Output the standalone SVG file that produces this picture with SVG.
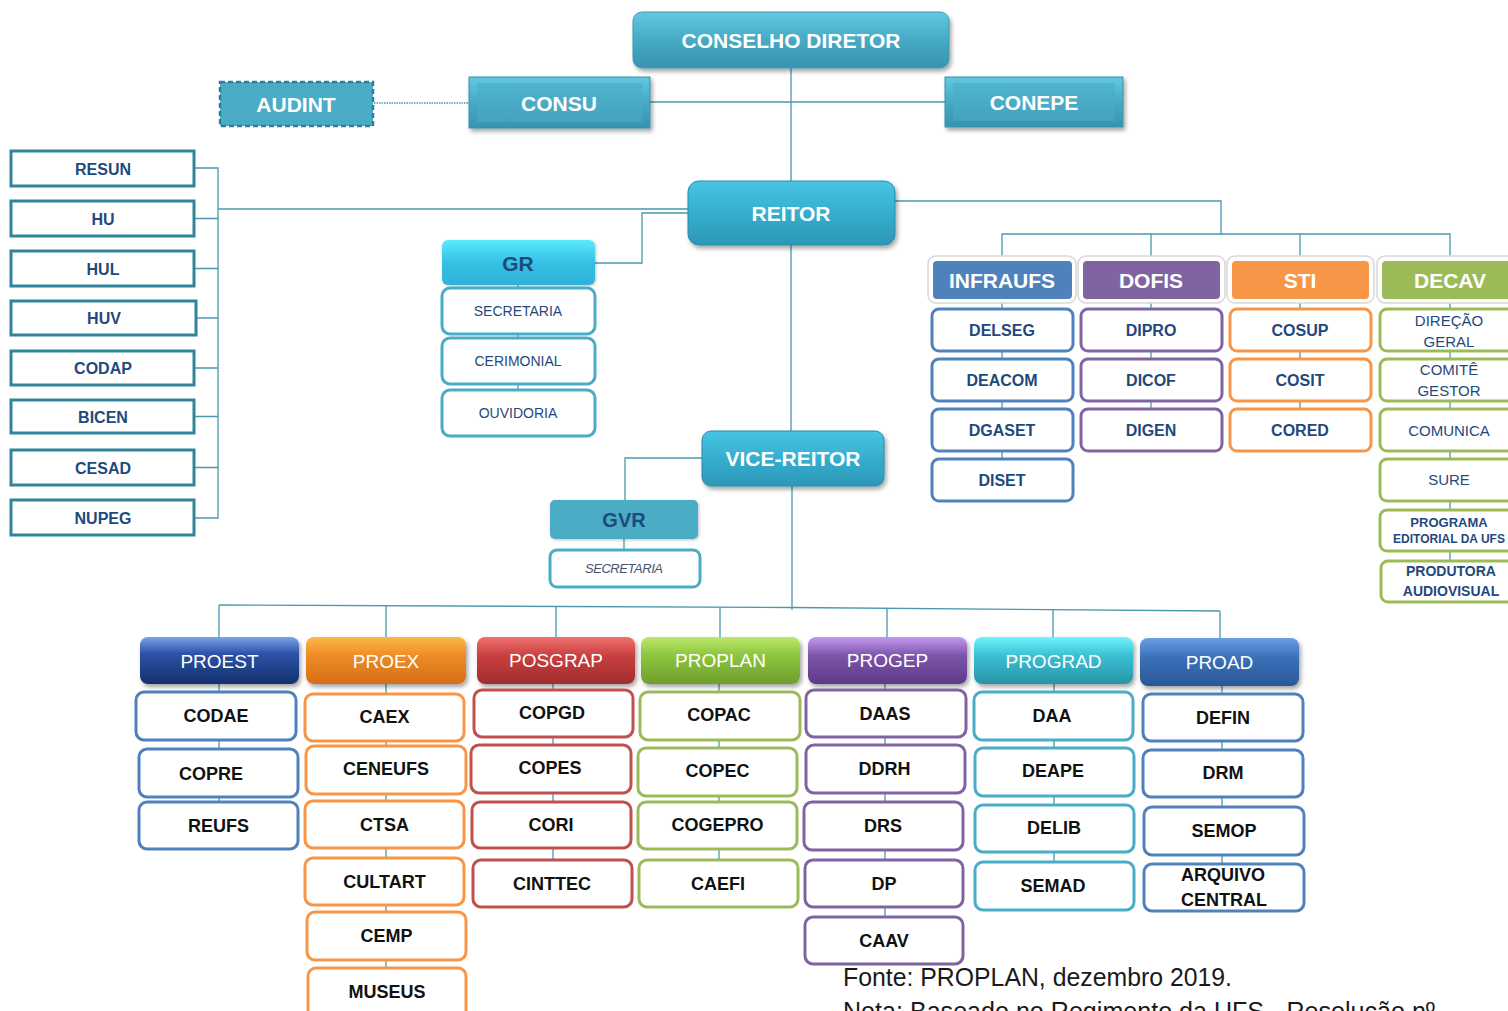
<svg xmlns="http://www.w3.org/2000/svg" width="1508" height="1011" viewBox="0 0 1508 1011">
<defs>
<style>
.t{font-family:'Liberation Sans',Arial,sans-serif;text-anchor:middle;dominant-baseline:central}
.wb{fill:#fff;font-weight:bold;font-size:21px}
.lbox{fill:#fff;stroke:#31849B;stroke-width:3}
.lt{fill:#1F497D;font-weight:bold;font-size:16px}
.c{fill:none;stroke:#4A98B0;stroke-width:1.3}
.kid{fill:#fff;stroke-width:3}
.kt{fill:#111;font-weight:bold;font-size:18px}
.ht{fill:#fff;font-size:19px}
.rt{fill:#1F497D;font-weight:bold;font-size:16px}
.dt{fill:#1F497D;font-size:15px}
.gt{fill:#1F497D;font-size:14px}
.frame{fill:#fff;stroke:#d8d8d8;stroke-width:1.5}
</style>
<linearGradient id="gTeal" x1="0" y1="0" x2="0" y2="1"><stop offset="0" stop-color="#62C8E0"/><stop offset="0.5" stop-color="#46AAC5"/><stop offset="1" stop-color="#3893AE"/></linearGradient>
<linearGradient id="gReit" x1="0" y1="0" x2="0" y2="1"><stop offset="0" stop-color="#48C4E4"/><stop offset="0.5" stop-color="#36AECF"/><stop offset="1" stop-color="#2C97B6"/></linearGradient>
<linearGradient id="gGR" x1="0" y1="0" x2="0" y2="1"><stop offset="0" stop-color="#5AEBFF"/><stop offset="0.5" stop-color="#36C0E4"/><stop offset="1" stop-color="#2EB2DA"/></linearGradient>
<linearGradient id="gNavy" x1="0" y1="0" x2="0" y2="1"><stop offset="0" stop-color="#7BA3EC"/><stop offset="0.35" stop-color="#2C54A8"/><stop offset="1" stop-color="#15306C"/></linearGradient>
<linearGradient id="gOrange" x1="0" y1="0" x2="0" y2="1"><stop offset="0" stop-color="#FDB74A"/><stop offset="0.4" stop-color="#EE8C26"/><stop offset="1" stop-color="#D66E14"/></linearGradient>
<linearGradient id="gRed" x1="0" y1="0" x2="0" y2="1"><stop offset="0" stop-color="#F07070"/><stop offset="0.4" stop-color="#C8403F"/><stop offset="1" stop-color="#A22C2C"/></linearGradient>
<linearGradient id="gGreen" x1="0" y1="0" x2="0" y2="1"><stop offset="0" stop-color="#BCE86A"/><stop offset="0.4" stop-color="#8DC43E"/><stop offset="1" stop-color="#6E9E2E"/></linearGradient>
<linearGradient id="gPurple" x1="0" y1="0" x2="0" y2="1"><stop offset="0" stop-color="#C398F0"/><stop offset="0.4" stop-color="#7C55AA"/><stop offset="1" stop-color="#5E3A86"/></linearGradient>
<linearGradient id="gCyan" x1="0" y1="0" x2="0" y2="1"><stop offset="0" stop-color="#70F4FF"/><stop offset="0.4" stop-color="#3BBFD3"/><stop offset="1" stop-color="#2894A8"/></linearGradient>
<linearGradient id="gBlue" x1="0" y1="0" x2="0" y2="1"><stop offset="0" stop-color="#6C9EE4"/><stop offset="0.4" stop-color="#3B71B9"/><stop offset="1" stop-color="#2A5896"/></linearGradient>
<filter id="sh" x="-10%" y="-20%" width="125%" height="150%"><feDropShadow dx="2" dy="3" stdDeviation="2" flood-color="#000" flood-opacity="0.35"/></filter>
<filter id="sh2" x="-10%" y="-20%" width="125%" height="150%"><feDropShadow dx="1" dy="1" stdDeviation="1.5" flood-color="#000" flood-opacity="0.25"/></filter>
</defs>
<rect width="1508" height="1011" fill="#fff"/>

<g id="connectors">
<path class="c" d="M791,68 V181 M791,245 V431 M792,486 V610"/>
<path class="c" d="M374,103 H469" stroke-dasharray="1.5 1"/>
<path class="c" d="M650,102 H945"/>
<path class="c" d="M688,209 H218 M194,168 H218 V518 H194 M194,218.5 H218 M194,268.5 H218 M196,318 H218 M194,368 H218 M194,416.5 H218 M194,467.5 H218"/>
<path class="c" d="M688,213 H642 V263 H595 M518,285 V390"/>
<path class="c" d="M702,458 H625 V500 M624,539 V550"/>
<path class="c" d="M895,201 H1221 V234 M1002,258 V234 H1450 V258 M1151,234 V258 M1300,234 V258"/>
<path class="c" d="M1002,299 V480 M1151,299 V430 M1300,299 V430 M1450,299 V580"/>
<polyline class="c" points="219,605 792,607.5 1220,611"/>
<path class="c" d="M219,605 V637 M386,606 V637 M556,607 V637 M720,607 V637 M887,608 V637 M1053,609 V637 M1220,611 V638"/>
<path class="c" d="M219,684 V825 M386,684 V990 M553,684 V883 M719,684 V883 M885,684 V940 M1054,684 V886 M1222,686 V887"/>
</g>

<g id="conselho-diretor"><rect x="633" y="12" width="316" height="56" rx="9" fill="url(#gTeal)" stroke="#3A9AB5" stroke-width="1" filter="url(#sh)"/><text class="t wb" x="791" y="40">CONSELHO DIRETOR</text></g>
<g id="audint"><rect x="220" y="82" width="153" height="44" fill="#4BACC6" stroke="#2C7F97" stroke-width="2.5" stroke-dasharray="5 3"/><text class="t wb" x="296" y="104" font-size="22">AUDINT</text></g>
<g id="consu"><rect x="469" y="77" width="181" height="51" fill="url(#gTeal)" stroke="#3A92AB" stroke-width="1" filter="url(#sh)"/><rect x="477" y="83" width="165" height="39" fill="#4BACC6" opacity="0.6"/><text class="t wb" x="559" y="103">CONSU</text></g>
<g id="conepe"><rect x="945" y="77" width="178" height="50" fill="url(#gTeal)" stroke="#3A92AB" stroke-width="1" filter="url(#sh)"/><rect x="953" y="83" width="162" height="38" fill="#4BACC6" opacity="0.6"/><text class="t wb" x="1034" y="102">CONEPE</text></g>
<g id="reitor"><rect x="688" y="181" width="207" height="64" rx="11" fill="url(#gReit)" stroke="#2A8AA8" stroke-width="1" filter="url(#sh)"/><text class="t wb" x="791" y="213">REITOR</text></g>
<g id="vice-reitor"><rect x="702" y="431" width="182" height="55" rx="9" fill="url(#gReit)" stroke="#2A8AA8" stroke-width="1" filter="url(#sh)"/><text class="t wb" x="793" y="458">VICE-REITOR</text></g>

<g id="resun"><rect class="lbox" x="11" y="151" width="183" height="35"/><text class="t lt" x="103" y="169">RESUN</text></g>
<g id="hu"><rect class="lbox" x="11" y="201" width="183" height="35"/><text class="t lt" x="103" y="219">HU</text></g>
<g id="hul"><rect class="lbox" x="11" y="251" width="183" height="35"/><text class="t lt" x="103" y="269">HUL</text></g>
<g id="huv"><rect class="lbox" x="11" y="301" width="185" height="34"/><text class="t lt" x="104" y="318">HUV</text></g>
<g id="codap"><rect class="lbox" x="11" y="351" width="183" height="34"/><text class="t lt" x="103" y="368">CODAP</text></g>
<g id="bicen"><rect class="lbox" x="11" y="400" width="183" height="33"/><text class="t lt" x="103" y="417">BICEN</text></g>
<g id="cesad"><rect class="lbox" x="11" y="450" width="183" height="35"/><text class="t lt" x="103" y="468">CESAD</text></g>
<g id="nupeg"><rect class="lbox" x="11" y="500" width="183" height="35"/><text class="t lt" x="103" y="518">NUPEG</text></g>

<g id="gr"><rect x="442" y="240" width="153" height="45" rx="6" fill="url(#gGR)" filter="url(#sh2)"/><text class="t" x="518" y="263" fill="#1F497D" font-weight="bold" font-size="21">GR</text></g>
<g id="gr-secretaria"><rect class="kid" x="442" y="288" width="153" height="46" rx="8" stroke="#4BACC6"/><text class="t gt" x="518" y="311">SECRETARIA</text></g>
<g id="cerimonial"><rect class="kid" x="442" y="338" width="153" height="46" rx="8" stroke="#4BACC6"/><text class="t gt" x="518" y="361">CERIMONIAL</text></g>
<g id="ouvidoria"><rect class="kid" x="442" y="390" width="153" height="46" rx="8" stroke="#4BACC6"/><text class="t gt" x="518" y="413">OUVIDORIA</text></g>
<g id="gvr"><rect x="550" y="500" width="148" height="39" rx="5" fill="#4BACC6" filter="url(#sh2)"/><text class="t" x="624" y="520" fill="#1F497D" font-weight="bold" font-size="20">GVR</text></g>
<g id="gvr-secretaria"><rect class="kid" x="550" y="550" width="150" height="37" rx="7" stroke="#4BACC6"/><text class="t" x="624" y="568" fill="#44546A" font-size="13" font-style="italic" textLength="78">SECRETARIA</text></g>

<g id="infraufs"><rect class="frame" x="928" y="256" width="148" height="47" rx="8"/><rect x="933" y="261" width="139" height="38" rx="4" fill="#4F81BD"/><text class="t wb" x="1002" y="280" font-size="22">INFRAUFS</text></g>
<g id="dofis"><rect class="frame" x="1078" y="256" width="147" height="47" rx="8"/><rect x="1083" y="261" width="137" height="38" rx="4" fill="#8064A2"/><text class="t wb" x="1151" y="280" font-size="22">DOFIS</text></g>
<g id="sti"><rect class="frame" x="1227" y="256" width="147" height="47" rx="8"/><rect x="1232" y="261" width="137" height="38" rx="4" fill="#F79646"/><text class="t wb" x="1300" y="280" font-size="22">STI</text></g>
<g id="decav"><rect class="frame" x="1377" y="256" width="148" height="47" rx="8"/><rect x="1382" y="261" width="140" height="38" rx="4" fill="#9BBB59"/><text class="t wb" x="1450" y="280" font-size="22">DECAV</text></g>

<g id="delseg"><rect class="kid" x="932" y="309" width="141" height="42" rx="7" stroke="#4F81BD"/><text class="t rt" x="1002" y="330">DELSEG</text></g>
<g id="deacom"><rect class="kid" x="932" y="359" width="141" height="42" rx="7" stroke="#4F81BD"/><text class="t rt" x="1002" y="380">DEACOM</text></g>
<g id="dgaset"><rect class="kid" x="932" y="409" width="141" height="42" rx="7" stroke="#4F81BD"/><text class="t rt" x="1002" y="430">DGASET</text></g>
<g id="diset"><rect class="kid" x="932" y="459" width="141" height="42" rx="7" stroke="#4F81BD"/><text class="t rt" x="1002" y="480">DISET</text></g>
<g id="dipro"><rect class="kid" x="1081" y="309" width="141" height="42" rx="7" stroke="#8064A2"/><text class="t rt" x="1151" y="330">DIPRO</text></g>
<g id="dicof"><rect class="kid" x="1081" y="359" width="141" height="42" rx="7" stroke="#8064A2"/><text class="t rt" x="1151" y="380">DICOF</text></g>
<g id="digen"><rect class="kid" x="1081" y="409" width="141" height="42" rx="7" stroke="#8064A2"/><text class="t rt" x="1151" y="430">DIGEN</text></g>
<g id="cosup"><rect class="kid" x="1230" y="309" width="141" height="42" rx="7" stroke="#F79646"/><text class="t rt" x="1300" y="330">COSUP</text></g>
<g id="cosit"><rect class="kid" x="1230" y="359" width="141" height="42" rx="7" stroke="#F79646"/><text class="t rt" x="1300" y="380">COSIT</text></g>
<g id="cored"><rect class="kid" x="1230" y="409" width="141" height="42" rx="7" stroke="#F79646"/><text class="t rt" x="1300" y="430">CORED</text></g>
<g id="direcao-geral"><rect class="kid" x="1380" y="309" width="140" height="42" rx="7" stroke="#9BBB59"/><text class="t dt" x="1449" y="320">DIREÇÃO</text><text class="t dt" x="1449" y="341">GERAL</text></g>
<g id="comite-gestor"><rect class="kid" x="1380" y="359" width="140" height="42" rx="7" stroke="#9BBB59"/><text class="t dt" x="1449" y="369">COMITÊ</text><text class="t dt" x="1449" y="390">GESTOR</text></g>
<g id="comunica"><rect class="kid" x="1380" y="409" width="140" height="42" rx="7" stroke="#9BBB59"/><text class="t dt" x="1449" y="430">COMUNICA</text></g>
<g id="sure"><rect class="kid" x="1380" y="459" width="140" height="42" rx="7" stroke="#9BBB59"/><text class="t dt" x="1449" y="479">SURE</text></g>
<g id="programa-editorial"><rect class="kid" x="1380" y="510" width="140" height="41" rx="7" stroke="#9BBB59"/><text class="t" x="1449" y="522" fill="#1F497D" font-weight="bold" font-size="13">PROGRAMA</text><text class="t" x="1449" y="539" fill="#1F497D" font-weight="bold" font-size="12">EDITORIAL DA UFS</text></g>
<g id="produtora-audiovisual"><rect class="kid" x="1381" y="561" width="140" height="41" rx="7" stroke="#9BBB59"/><text class="t" x="1451" y="571" fill="#1F497D" font-weight="bold" font-size="14">PRODUTORA</text><text class="t" x="1451" y="591" fill="#1F497D" font-weight="bold" font-size="14">AUDIOVISUAL</text></g>

<g id="proest"><rect x="140" y="637" width="159" height="47" rx="8" fill="url(#gNavy)" filter="url(#sh)"/><text class="t ht" x="219.5" y="661">PROEST</text></g>
<g id="proex"><rect x="306" y="637" width="160" height="47" rx="8" fill="url(#gOrange)" filter="url(#sh)"/><text class="t ht" x="386" y="661">PROEX</text></g>
<g id="posgrap"><rect x="477" y="637" width="158" height="47" rx="8" fill="url(#gRed)" filter="url(#sh)"/><text class="t ht" x="556" y="660">POSGRAP</text></g>
<g id="proplan"><rect x="641" y="637" width="159" height="47" rx="8" fill="url(#gGreen)" filter="url(#sh)"/><text class="t ht" x="720.5" y="660">PROPLAN</text></g>
<g id="progep"><rect x="808" y="637" width="159" height="47" rx="8" fill="url(#gPurple)" filter="url(#sh)"/><text class="t ht" x="887.5" y="660">PROGEP</text></g>
<g id="prograd"><rect x="974" y="637" width="159" height="47" rx="8" fill="url(#gCyan)" filter="url(#sh)"/><text class="t ht" x="1053.5" y="661">PROGRAD</text></g>
<g id="proad"><rect x="1140" y="638" width="159" height="48" rx="8" fill="url(#gBlue)" filter="url(#sh)"/><text class="t ht" x="1219.5" y="662">PROAD</text></g>

<g id="codae"><rect class="kid" x="136" y="692" width="160" height="48" rx="8" stroke="#4F81BD"/><text class="t kt" x="216" y="716">CODAE</text></g>
<g id="copre"><rect class="kid" x="139" y="749" width="159" height="48" rx="8" stroke="#4F81BD"/><text class="t kt" x="211" y="774">COPRE</text></g>
<g id="reufs"><rect class="kid" x="139" y="802" width="159" height="47" rx="8" stroke="#4F81BD"/><text class="t kt" x="218.5" y="826">REUFS</text></g>

<g id="caex"><rect class="kid" x="305" y="694" width="159" height="47" rx="8" stroke="#F79646"/><text class="t kt" x="384.5" y="717">CAEX</text></g>
<g id="ceneufs"><rect class="kid" x="306" y="746" width="160" height="48" rx="8" stroke="#F79646"/><text class="t kt" x="386" y="769">CENEUFS</text></g>
<g id="ctsa"><rect class="kid" x="305" y="801" width="159" height="47" rx="8" stroke="#F79646"/><text class="t kt" x="384.5" y="825">CTSA</text></g>
<g id="cultart"><rect class="kid" x="305" y="858" width="159" height="47" rx="8" stroke="#F79646"/><text class="t kt" x="384.5" y="882">CULTART</text></g>
<g id="cemp"><rect class="kid" x="307" y="912" width="159" height="48" rx="8" stroke="#F79646"/><text class="t kt" x="386.5" y="936">CEMP</text></g>
<g id="museus"><rect class="kid" x="308" y="968" width="158" height="52" rx="8" stroke="#F79646"/><text class="t kt" x="387" y="992">MUSEUS</text></g>

<g id="copgd"><rect class="kid" x="474" y="690" width="159" height="47" rx="8" stroke="#C0504D"/><text class="t kt" x="552" y="713">COPGD</text></g>
<g id="copes"><rect class="kid" x="471" y="745" width="160" height="48" rx="8" stroke="#C0504D"/><text class="t kt" x="550" y="768">COPES</text></g>
<g id="cori"><rect class="kid" x="472" y="802" width="159" height="46" rx="8" stroke="#C0504D"/><text class="t kt" x="551" y="825">CORI</text></g>
<g id="cinttec"><rect class="kid" x="473" y="860" width="159" height="47" rx="8" stroke="#C0504D"/><text class="t kt" x="552" y="884">CINTTEC</text></g>

<g id="copac"><rect class="kid" x="640" y="692" width="160" height="48" rx="8" stroke="#9BBB59"/><text class="t kt" x="719" y="715">COPAC</text></g>
<g id="copec"><rect class="kid" x="638" y="748" width="159" height="48" rx="8" stroke="#9BBB59"/><text class="t kt" x="717.5" y="771">COPEC</text></g>
<g id="cogepro"><rect class="kid" x="638" y="802" width="159" height="47" rx="8" stroke="#9BBB59"/><text class="t kt" x="717.5" y="825">COGEPRO</text></g>
<g id="caefi"><rect class="kid" x="639" y="860" width="159" height="47" rx="8" stroke="#9BBB59"/><text class="t kt" x="718" y="884">CAEFI</text></g>

<g id="daas"><rect class="kid" x="806" y="690" width="160" height="47" rx="8" stroke="#8064A2"/><text class="t kt" x="885" y="714">DAAS</text></g>
<g id="ddrh"><rect class="kid" x="806" y="745" width="159" height="48" rx="8" stroke="#8064A2"/><text class="t kt" x="884.5" y="769">DDRH</text></g>
<g id="drs"><rect class="kid" x="804" y="802" width="159" height="48" rx="8" stroke="#8064A2"/><text class="t kt" x="883" y="826">DRS</text></g>
<g id="dp"><rect class="kid" x="805" y="860" width="158" height="47" rx="8" stroke="#8064A2"/><text class="t kt" x="884" y="884">DP</text></g>
<g id="caav"><rect class="kid" x="805" y="917" width="158" height="47" rx="8" stroke="#8064A2"/><text class="t kt" x="884" y="941">CAAV</text></g>

<g id="daa"><rect class="kid" x="974" y="692" width="159" height="48" rx="8" stroke="#4BACC6"/><text class="t kt" x="1052" y="716">DAA</text></g>
<g id="deape"><rect class="kid" x="975" y="748" width="159" height="48" rx="8" stroke="#4BACC6"/><text class="t kt" x="1053" y="771">DEAPE</text></g>
<g id="delib"><rect class="kid" x="975" y="805" width="159" height="47" rx="8" stroke="#4BACC6"/><text class="t kt" x="1054" y="828">DELIB</text></g>
<g id="semad"><rect class="kid" x="975" y="862" width="159" height="48" rx="8" stroke="#4BACC6"/><text class="t kt" x="1053" y="886">SEMAD</text></g>

<g id="defin"><rect class="kid" x="1143" y="694" width="160" height="47" rx="8" stroke="#4F81BD"/><text class="t kt" x="1223" y="718">DEFIN</text></g>
<g id="drm"><rect class="kid" x="1143" y="750" width="160" height="47" rx="8" stroke="#4F81BD"/><text class="t kt" x="1223" y="773">DRM</text></g>
<g id="semop"><rect class="kid" x="1144" y="807" width="160" height="48" rx="8" stroke="#4F81BD"/><text class="t kt" x="1224" y="831">SEMOP</text></g>
<g id="arquivo-central"><rect class="kid" x="1144" y="864" width="160" height="47" rx="8" stroke="#4F81BD"/><text class="t kt" x="1223" y="875">ARQUIVO</text><text class="t kt" x="1224" y="900">CENTRAL</text></g>

<g id="footer">
<text x="843" y="986" font-family="'Liberation Sans',Arial,sans-serif" font-size="25" fill="#1a1a1a" textLength="389" lengthAdjust="spacingAndGlyphs">Fonte: PROPLAN, dezembro 2019.</text>
<text x="843" y="1020" font-family="'Liberation Sans',Arial,sans-serif" font-size="25" fill="#1a1a1a" textLength="592" lengthAdjust="spacingAndGlyphs">Nota: Baseado no Regimento da UFS - Resolução nº</text>
</g>
</svg>
